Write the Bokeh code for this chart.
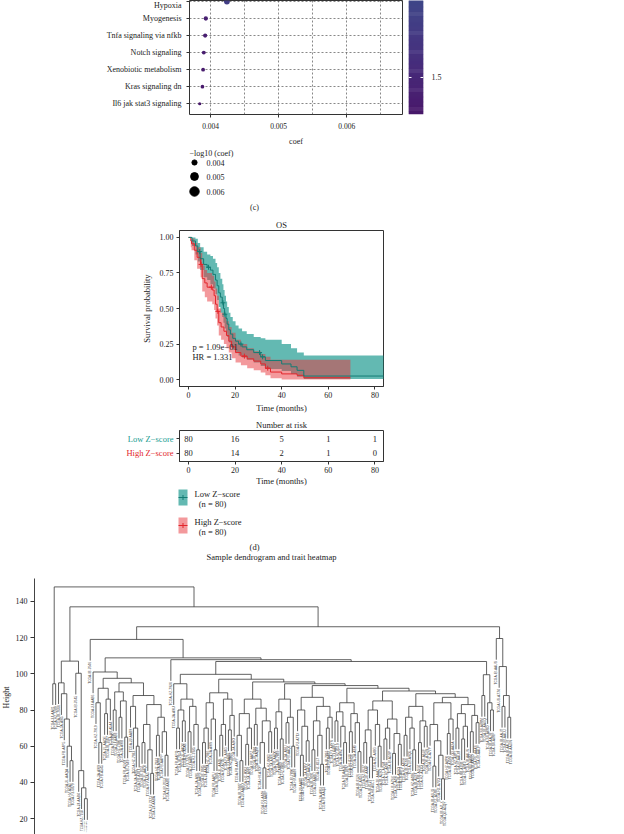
import numpy as np
from bokeh.plotting import figure
from bokeh.models import (Range1d, FixedTicker, Label, LinearColorMapper,
                          ColumnDataSource, NumeralTickFormatter)
from bokeh.layouts import column, row
from bokeh.embed import file_html
from bokeh.resources import INLINE
from bokeh.core.properties import value
from bokeh.palettes import Viridis256

SERIF = "Liberation Serif"
INK = "#222222"

# ---------------- (c) pathway dot plot data ----------------
pathways = ["Hypoxia", "Myogenesis", "Tnfa signaling via nfkb", "Notch signaling",
            "Xenobiotic metabolism", "Kras signaling dn", "Il6 jak stat3 signaling"]
coef = [0.00424, 0.00393, 0.00392, 0.00390, 0.00389, 0.00388, 0.00384]
neg_log_p = [1.78, 1.40, 1.39, 1.37, 1.36, 1.35, 1.31]
coef_ticks = [0.004, 0.005, 0.006]
coef_minor = [0.0045, 0.0055, 0.0065]
size_breaks = [0.004, 0.005, 0.006]
colorbar_ticks = [1.5]
colorbar_low = 1.30

# ---------------- (d) Kaplan-Meier data ----------------
low_t = [0, 1.5, 3, 4, 5, 6.5, 8, 9.4, 10.5, 11.6, 12.3, 13, 13.7, 14.5, 15, 15.5, 16.1,
         16.6, 17.3, 18, 19, 20.2, 21.5, 23, 25, 28, 31, 33, 40, 44, 46.6, 49.5, 84]
low_s = [1.00, 0.975, 0.94, 0.90, 0.85, 0.81, 0.79, 0.77, 0.74, 0.70, 0.66, 0.61, 0.58,
         0.54, 0.50, 0.46, 0.43, 0.39, 0.35, 0.32, 0.29, 0.27, 0.25, 0.23, 0.21, 0.19,
         0.16, 0.134, 0.11, 0.09, 0.065, 0.025, 0.025]
low_up = [1.00, 1.00, 0.99, 0.96, 0.93, 0.90, 0.88, 0.87, 0.85, 0.82, 0.79, 0.75, 0.71,
          0.67, 0.63, 0.59, 0.55, 0.51, 0.47, 0.44, 0.41, 0.38, 0.36, 0.34, 0.32, 0.30,
          0.29, 0.28, 0.25, 0.22, 0.19, 0.17, 0.17]
low_lo = [1.00, 0.94, 0.88, 0.83, 0.77, 0.72, 0.70, 0.67, 0.64, 0.60, 0.56, 0.51, 0.47,
          0.44, 0.40, 0.36, 0.33, 0.30, 0.26, 0.23, 0.21, 0.19, 0.17, 0.155, 0.14, 0.12,
          0.095, 0.075, 0.06, 0.04, 0.02, 0.004, 0.004]
low_censor_t = [4.8, 8.6, 14.8, 15.6, 22.5, 30.5, 31.8]

high_t = [0, 1, 1.3, 2.5, 3.7, 5.2, 5.9, 7, 8, 10.2, 11, 11.6, 12.3, 13, 14, 15.2, 16.3,
          17.3, 18.5, 20.2, 22.5, 25.2, 28, 31, 33, 35.2, 40, 46.6, 49.5, 69.5]
high_s = [1.0, 0.975, 0.955, 0.91, 0.86, 0.81, 0.71, 0.68, 0.65, 0.63, 0.59, 0.53, 0.48,
          0.40, 0.37, 0.34, 0.31, 0.27, 0.23, 0.19, 0.165, 0.146, 0.13, 0.11, 0.08, 0.053,
          0.04, 0.03, 0.013, 0.013]
high_up = [1.0, 1.0, 0.99, 0.96, 0.93, 0.89, 0.80, 0.77, 0.75, 0.73, 0.69, 0.64, 0.59,
           0.50, 0.47, 0.44, 0.41, 0.37, 0.33, 0.28, 0.25, 0.22, 0.20, 0.18, 0.16, 0.14,
           0.14, 0.14, 0.14, 0.14]
high_lo = [1.0, 0.93, 0.91, 0.84, 0.78, 0.72, 0.62, 0.58, 0.55, 0.53, 0.49, 0.43, 0.38,
           0.31, 0.28, 0.25, 0.22, 0.19, 0.15, 0.12, 0.10, 0.08, 0.065, 0.05, 0.03, 0.01,
           0.0, 0.0, 0.0, 0.0]
high_censor_t = [5.4, 9.8, 12.6, 24, 34]

km_x_ticks = [0, 20, 40, 60, 80]
km_y_ticks = [0, 0.25, 0.5, 0.75, 1.0]
p_text = "p = 1.09e\u221201"
hr_text = "HR = 1.331"

risk_times = [0, 20, 40, 60, 80]
risk_low = [80, 16, 5, 1, 1]
risk_high = [80, 14, 2, 1, 0]
group_names = ["Low Z\u2212score", "High Z\u2212score"]
group_n = [80, 80]

# ---------------- sample dendrogram data (Newick-like: "*" leaf, number = merge height) ----
A = "(*,*)94.5"
C1 = "(*,(*,(*,(*,(*,*)52)60)75)89)95"
C2 = "(*,(*,(*,(*,*)31)37)46.5)100.3"
P2a = "((*,(*,*)62)84,((*,*)78,*)86)92"
P2b1 = "((*,*)80,((*,*)76,(*,*)65)85)90"
P2b2 = "((*,(*,(*,*)60)70)82,(((*,*)62,(*,(*,*)45)58)72,((*,*)66,(*,(*,*)55)68)76)83)88"
T1b = "(((*,*)70,(*,*)74)80,((*,*)68,(*,(*,*)58)72)82)86"
T2a = "((((*,*)62,*)70,(*,(*,*)58)75)84,(((*,*)66,*)72,((*,*)69,*)77)86)89.5"
T2b1 = "(((*,(*,*)52)66,((*,*)61,*)70)78,((*,*)72,((*,(*,*)48)62,(*,*)68)74)81)86"
T2c = "(((*,*)70,(*,*)64)79,((*,*)73,(*,*)60)76)86"
T2e = "((*,((*,*)55,(*,*)63)71)80,(((*,*)58,(*,(*,*)50)66)74,((*,*)70,*)76)82)87"
T2g = "(((*,*)74,(*,(*,*)62)71)79,((*,*)68,(*,(*,*)57)73)78)84"
T2i = "((((*,*)62,(*,*)54)69,(*,(*,*)60)72)80,(((*,*)64,*)70,((*,*)56,(*,*)61)67)75)85"
J1 = "(((*,*)66,(*,(*,*)58)70)76,((*,*)62,(*,*)71)74)82"
J2 = "((*,((*,*)49,(*,(*,*)42)55)63)72,((*,*)67,*)75)84"
J3 = "(((*,*)70,((*,*)64,*)71)78,((*,*)68,(*,*)73)77)83"
U = "((*,*)88,(*,(*,*)80)84)99.5"
F = "(*,(*,((*,*)82,(*,*)76)88)104)119.5"

C = f"({C1},{C2})107"
P = f"(*,({P2a},({P2b1},{P2b2})95)97.5)101"
T1 = f"(*,{T1b})94.5"
T2j = f"({J1},({J2},{J3})87)89"
T2h = f"({T2i},{T2j})90.5"
T2f = f"({T2g},{T2h})92"
T2d = f"({T2e},{T2f})93.5"
T2b2 = f"({T2c},{T2d})94.5"
T2b = f"({T2b1},{T2b2})95.5"
T2 = f"({T2a},{T2b})97"
T = f"({T1},{T2})99.7"
S = f"({T},{U})106.8"
Q = f"(*,{S})107.8"
H = f"({P},{Q})108.8"
E = f"(*,{H})119"
D = f"({E},{F})126"
B = f"({C},{D})137"
TREE = f"({A},{B})148"

sample_ids = ("TCGA-2J-AAB1 TCGA-HZ-7289 TCGA-IB-7644 TCGA-3A-A9I5 TCGA-FB-A4P5 TCGA-2L-AAQA "
              "TCGA-HV-A5A3 TCGA-F2-6879 TCGA-IB-7645 TCGA-2J-AAB4 TCGA-HZ-7918 TCGA-3A-A9I7 "
              "TCGA-FB-A4P6 TCGA-IB-7646 TCGA-2J-AAB6 TCGA-HZ-7919 TCGA-3A-A9I9 TCGA-FB-A545 "
              "TCGA-2L-AAQE TCGA-IB-7647 TCGA-HV-A5A4 TCGA-F2-6880 TCGA-2J-AAB8 TCGA-HZ-7920 "
              "TCGA-3A-A9IB TCGA-FB-A5VM TCGA-IB-7649 TCGA-2J-AAB9 TCGA-HZ-7922 TCGA-3A-A9IC "
              "TCGA-FB-A78T TCGA-IB-7651 TCGA-2L-AAQI TCGA-HV-A5A5 TCGA-F2-7273 TCGA-2J-AABA "
              "TCGA-HZ-7923 TCGA-3A-A9IH TCGA-FB-AAPP TCGA-IB-7652 TCGA-2J-AABE TCGA-HZ-7924 "
              "TCGA-3A-A9IJ TCGA-FB-AAPQ TCGA-IB-7654 TCGA-2L-AAQJ TCGA-HV-A5A6 TCGA-F2-7276 "
              "TCGA-2J-AABH TCGA-HZ-7925 TCGA-3A-A9IL TCGA-FB-AAPS TCGA-IB-7885 TCGA-2J-AABI "
              "TCGA-HZ-7926 TCGA-3A-A9IN TCGA-FB-AAPU TCGA-IB-7886 TCGA-2L-AAQL TCGA-HV-A7OL "
              "TCGA-F2-A44G TCGA-2J-AABK TCGA-HZ-8001 TCGA-3A-A9IO TCGA-FB-AAPY TCGA-IB-7887 "
              "TCGA-2J-AABO TCGA-HZ-8002 TCGA-3A-A9IR TCGA-FB-AAPZ TCGA-IB-7888 TCGA-2L-AAQM "
              "TCGA-HV-A7OP TCGA-F2-A44H TCGA-2J-AABP TCGA-HZ-8003 TCGA-3A-A9IS TCGA-FB-AAQ0 "
              "TCGA-IB-7889 TCGA-2J-AABR TCGA-HZ-8005 TCGA-3A-A9IU TCGA-FB-AAQ1 TCGA-IB-7890 "
              "TCGA-HV-AA8V TCGA-F2-A7TX TCGA-2J-AABT TCGA-HZ-8315 TCGA-3A-A9IV TCGA-FB-AAQ2 "
              "TCGA-IB-7891 TCGA-2J-AABU TCGA-HZ-8317 TCGA-3A-A9IX TCGA-FB-AAQ3 TCGA-IB-7893 "
              "TCGA-HV-AA8X TCGA-F2-A8YN TCGA-2J-AABV TCGA-HZ-8519 TCGA-3A-A9IZ TCGA-FB-AAQ6 "
              "TCGA-IB-7897 TCGA-H6-8124 TCGA-HZ-8636 TCGA-3A-A9J0 TCGA-IB-8126 TCGA-H6-A45N "
              "TCGA-HZ-8637 TCGA-3E-AAAY TCGA-IB-8127 TCGA-H8-A6C1 TCGA-HZ-A49G TCGA-3E-AAAZ "
              "TCGA-IB-A5SO TCGA-L1-A7W4 TCGA-HZ-A49H TCGA-IB-A5SP TCGA-LB-A7SX TCGA-HZ-A49I "
              "TCGA-IB-A5SQ TCGA-LB-A8F3 TCGA-HZ-A4BH TCGA-IB-A5SS TCGA-LB-A9Q5 TCGA-HZ-A4BK "
              "TCGA-IB-A5ST TCGA-M8-A5N4 TCGA-HZ-A77O TCGA-IB-A6UF TCGA-OE-A75W TCGA-HZ-A77P "
              "TCGA-IB-A6UG TCGA-PZ-A5RE TCGA-HZ-A77Q TCGA-IB-A7LX TCGA-Q3-A5QY TCGA-HZ-A8P0 "
              "TCGA-IB-A7M4 TCGA-Q3-AA2A TCGA-HZ-A8P1 TCGA-IB-AAUM TCGA-RB-A7B8 TCGA-HZ-A9TJ "
              "TCGA-IB-AAUN TCGA-RB-AA9M TCGA-IB-AAUO TCGA-RL-AAAS TCGA-IB-AAUP TCGA-S4-A8RM "
              "TCGA-IB-AAUQ TCGA-S4-A8RO TCGA-IB-AAUR TCGA-S4-A8RP TCGA-IB-AAUS TCGA-US-A774 "
              "TCGA-IB-AAUT TCGA-IB-AAUU TCGA-IB-AAUV TCGA-IB-AAUW").split()
dendro_ticks = [20, 40, 60, 80, 100, 120, 140]

# ======================================================================
W = 624


def base_fig(**kw):
    p = figure(output_backend="svg", toolbar_location=None, **kw)
    p.background_fill_color = "white"
    p.border_fill_color = "white"
    return p


def canvas(w, h, x_range=None, y_range=None, top=0, bottom=0):
    p = base_fig(width=w, height=h,
                 x_range=x_range if x_range is not None else Range1d(0, w),
                 y_range=y_range if y_range is not None else Range1d(h, 0),
                 x_axis_location=None, y_axis_location=None,
                 min_border_left=0, min_border_right=0, min_border_top=top, min_border_bottom=bottom)
    p.outline_line_color = None
    p.grid.visible = False
    return p


def style_axis(ax, size="8px"):
    ax.major_label_text_font = SERIF
    ax.major_label_text_font_size = size
    ax.major_label_text_color = INK
    ax.axis_label_text_font = SERIF
    ax.axis_label_text_font_style = "normal"
    ax.axis_label_text_color = INK
    ax.major_tick_line_color = "#333333"
    ax.major_tick_in = 0
    ax.major_tick_out = 3
    ax.minor_tick_line_color = None
    ax.axis_line_color = "#333333"


def txt(p, x, y, t, size="8px", align="left", color=INK, font=SERIF, angle=0.0):
    return p.text(x=x, y=y, text=t, text_font=value(font), text_font_size=size, angle=angle,
                  text_align=align, text_baseline="middle", text_color=color)


# ---------------- (c) dot plot ----------------
n_pw = len(pathways)
rowpos = [n_pw - 1 - k for k in range(n_pw)]
size_knots_x = [0.00384, 0.004, 0.005, 0.006]
size_knots_d = [3.2, 5.2, 7.8, 9.4]
dot_diam = np.interp(coef, size_knots_x, size_knots_d)
mapper = LinearColorMapper(palette=Viridis256, low=1.05, high=5.1)
src = ColumnDataSource(dict(coef=coef, row=rowpos, d=dot_diam, nlp=neg_log_p))

f1 = base_fig(width=408, height=148, x_range=Range1d(0.00369, 0.00682),
              y_range=Range1d(-0.63, 6.057),
              min_border_left=189, min_border_right=6, min_border_top=0, min_border_bottom=31)
f1.xgrid.ticker = FixedTicker(ticks=coef_ticks + coef_minor)
f1.ygrid.ticker = FixedTicker(ticks=rowpos)
for g in (f1.xgrid, f1.ygrid):
    g.grid_line_color = "#555555"
    g.grid_line_dash = "2 2"
    g.grid_line_width = 0.7
f1.scatter("coef", "row", size="d", source=src,
           fill_color={"field": "nlp", "transform": mapper}, line_color=None)
f1.xaxis.ticker = FixedTicker(ticks=coef_ticks)
f1.xaxis.formatter = NumeralTickFormatter(format="0.000")
f1.yaxis.ticker = FixedTicker(ticks=rowpos)
f1.yaxis.major_label_overrides = {r: nm for r, nm in zip(rowpos, pathways)}
style_axis(f1.xaxis, "7.5px")
style_axis(f1.yaxis, "8px")
f1.xaxis.axis_line_color = None
f1.yaxis.axis_line_color = None
f1.xaxis.axis_label = "coef"
f1.xaxis.axis_label_text_font_size = "8px"
f1.xaxis.axis_label_standoff = 5
f1.outline_line_color = "#333333"
f1.outline_line_width = 1

cb_top = 1.5 + 79 / 190.0
f1c = base_fig(width=216, height=148, x_range=Range1d(0, 1), y_range=Range1d(colorbar_low, cb_top),
               x_axis_location=None, y_axis_location="right",
               min_border_left=0, min_border_right=201, min_border_top=0, min_border_bottom=31)
nbins = 120
edges = np.linspace(colorbar_low, cb_top, nbins + 1)
overlap = (edges[1] - edges[0]) * 0.6
cb_src = ColumnDataSource(dict(b=edges[:-1], t=edges[1:] + overlap,
                               mid=(edges[:-1] + edges[1:]) / 2))
f1c.quad(left=0, right=1, bottom="b", top="t", source=cb_src,
         fill_color={"field": "mid", "transform": mapper}, line_color=None)
nt = len(colorbar_ticks)
f1c.segment(x0=[0] * nt + [0.8] * nt, x1=[0.2] * nt + [1.0] * nt,
            y0=colorbar_ticks * 2, y1=colorbar_ticks * 2, line_color="white", line_width=1)
f1c.yaxis.ticker = FixedTicker(ticks=colorbar_ticks)
style_axis(f1c.yaxis, "8px")
f1c.yaxis.axis_line_color = None
f1c.yaxis.major_tick_line_color = None
f1c.yaxis.major_label_standoff = 5
f1c.outline_line_color = None
f1c.grid.visible = False

# legend for (c)
f2 = canvas(W, 67)
txt(f2, [189], [5], ["\u2212log10 (coef)"])
leg_y = [14, 28, 43]
f2.scatter(x=[194] * len(size_breaks), y=leg_y,
           size=np.interp(size_breaks, size_knots_x, size_knots_d), color="black")
txt(f2, [206] * len(size_breaks), leg_y, [f"{b:.3f}" for b in size_breaks])
txt(f2, [254], [59], ["(c)"], align="center")

# ---------------- (d) KM plot ----------------
TEAL_LINE = "#147d74"
TEAL_FILL = "#0f9488"
RED_LINE = "#e3262c"
RED_FILL = "#e8343a"
TEAL_TXT = "#1a9d92"

f3 = base_fig(width=W, height=200, x_range=Range1d(-3.86, 83.7), y_range=Range1d(-0.0486, 1.0486),
              min_border_left=179, min_border_right=241, min_border_top=15, min_border_bottom=27,
              title="OS")
f3.title.align = "center"
f3.title.text_font = SERIF
f3.title.text_font_size = "8.5px"
f3.title.text_font_style = "normal"
f3.title.text_color = INK
f3.title.standoff = 2
f3.grid.visible = False
f3.varea_step(x=low_t, y1=low_lo, y2=low_up, step_mode="after", fill_color=TEAL_FILL, fill_alpha=0.65)
f3.varea_step(x=high_t, y1=high_lo, y2=high_up, step_mode="after", fill_color=RED_FILL, fill_alpha=0.5)
f3.step(x=high_t, y=high_s, mode="after", line_color=RED_LINE, line_width=1)
f3.step(x=low_t, y=low_s, mode="after", line_color=TEAL_LINE, line_width=1)


def step_lookup(ts, ss, q):
    idx = np.searchsorted(ts, q, side="right") - 1
    return [ss[i] for i in idx]


f3.scatter(x=high_censor_t, y=step_lookup(high_t, high_s, high_censor_t), marker="cross",
           size=5, line_color=RED_LINE, line_width=1)
f3.scatter(x=low_censor_t, y=step_lookup(low_t, low_s, low_censor_t), marker="cross",
           size=5, line_color=TEAL_LINE, line_width=1)
f3.xaxis.ticker = FixedTicker(ticks=km_x_ticks)
f3.yaxis.ticker = FixedTicker(ticks=km_y_ticks)
f3.yaxis.formatter = NumeralTickFormatter(format="0.00")
style_axis(f3.xaxis)
style_axis(f3.yaxis)
f3.xaxis.major_label_standoff = 2
f3.yaxis.major_label_standoff = 3
f3.xaxis.axis_label = "Time (months)"
f3.yaxis.axis_label = "Survival probability"
f3.xaxis.axis_label_text_font_size = "8.5px"
f3.yaxis.axis_label_text_font_size = "8.5px"
f3.xaxis.axis_label_standoff = 2
f3.yaxis.axis_label_standoff = 5
f3.outline_line_color = "#333333"
f3.outline_line_width = 1
f3.add_layout(Label(x=1.7, y=0.231, text=p_text, text_font=SERIF, text_font_size="8.5px",
                    text_baseline="middle", text_color=INK))
f3.add_layout(Label(x=1.7, y=0.162, text=hr_text, text_font=SERIF, text_font_size="8.5px",
                    text_baseline="middle", text_color=INK))

# risk table: group names on a left strip (same vertical frame), table to the right
risk_y_range = (-0.5625, 1.5625)
f4lab = canvas(175, 73, x_range=Range1d(0, 175), y_range=Range1d(*risk_y_range), top=15, bottom=24)
lab_src = ColumnDataSource(dict(x=[173, 173], y=[1, 0], t=group_names, c=[TEAL_TXT, RED_LINE]))
f4lab.text(x="x", y="y", text="t", text_color="c", source=lab_src, text_font=value(SERIF),
           text_font_size="8.5px", text_align="right", text_baseline="middle")

f4 = base_fig(width=W - 175, height=73, x_range=Range1d(-3.86, 83.7),
              y_range=Range1d(*risk_y_range),
              min_border_left=4, min_border_right=241, min_border_top=15, min_border_bottom=24,
              title="Number at risk")
f4.title.align = "center"
f4.title.text_font = SERIF
f4.title.text_font_size = "8.5px"
f4.title.text_font_style = "normal"
f4.title.text_color = INK
f4.title.standoff = 2
f4.grid.visible = False
txt(f4, risk_times + risk_times, [1] * len(risk_times) + [0] * len(risk_times),
    [str(v) for v in risk_low + risk_high], size="8.5px", align="center")
f4.xaxis.ticker = FixedTicker(ticks=km_x_ticks)
f4.yaxis.ticker = FixedTicker(ticks=[0, 1])
f4.yaxis.major_label_overrides = {0: "", 1: ""}
style_axis(f4.xaxis)
style_axis(f4.yaxis)
f4.xaxis.major_label_standoff = 2
f4.xaxis.axis_label = "Time (months)"
f4.xaxis.axis_label_text_font_size = "8.5px"
f4.xaxis.axis_label_standoff = 0
f4.outline_line_color = "#333333"
f4.outline_line_width = 1

# legend for (d) + captions
f5 = canvas(W, 74)
for cy, fill, alpha, line, nm, nn in [(9, TEAL_FILL, 0.65, TEAL_LINE, group_names[0], group_n[0]),
                                      (37, RED_FILL, 0.5, RED_LINE, group_names[1], group_n[1])]:
    f5.rect(x=[182.5], y=[cy], width=9, height=16, fill_color=fill, fill_alpha=alpha, line_color=None)
    f5.segment(x0=[178], x1=[187], y0=[cy], y1=[cy], line_color=line, line_width=1)
    f5.scatter(x=[182.5], y=[cy], marker="cross", size=5, line_color=line, line_width=1)
    txt(f5, [194], [cy - 4], [nm], size="8.5px")
    txt(f5, [212], [cy + 6], [f"(n = {nn})"], size="8.5px", align="center")
txt(f5, [254], [58], ["(d)"], size="8.5px", align="center")
txt(f5, [271], [68], ["Sample dendrogram and trait heatmap"], size="8.5px", align="center")

# ---------------- dendrogram ----------------


def parse_tree(s):
    pos = [0]

    def node():
        if s[pos[0]] == "*":
            pos[0] += 1
            return None
        pos[0] += 1  # '('
        a = node()
        pos[0] += 1  # ','
        b = node()
        pos[0] += 1  # ')'
        j = pos[0]
        while pos[0] < len(s) and (s[pos[0]].isdigit() or s[pos[0]] == "."):
            pos[0] += 1
        return (float(s[j:pos[0]]), a, b)
    return node()


root = parse_tree(TREE)
heights = []


def collect(nd):
    if nd is not None:
        heights.append(nd[0])
        collect(nd[1])
        collect(nd[2])


collect(root)
hang = 0.1 * (max(heights) - min(heights))
sx0, sy0, sx1, sy1 = [], [], [], []
leaf_x, leaf_y = [], []
counter = [0]


def place(nd, parent_h):
    if nd is None:
        i = counter[0]
        counter[0] += 1
        sx0.append(i); sx1.append(i); sy0.append(parent_h); sy1.append(parent_h - hang)
        leaf_x.append(i); leaf_y.append(parent_h - hang)
        return i
    h, a, b = nd
    xa = place(a, h)
    xb = place(b, h)
    sx0.append(xa); sx1.append(xb); sy0.append(h); sy1.append(h)
    x = (xa + xb) / 2
    if parent_h is not None:
        sx0.append(x); sx1.append(x); sy0.append(h); sy1.append(parent_h)
    return x


place(root, None)
n_leaf = counter[0]
step = (510 - 51.3) / (n_leaf - 1)
PX_PER_H = 1.81
dendro_y_range = (100 - (834 - 673.3) / PX_PER_H, 100 + (673.3 - 570) / PX_PER_H)
LAB_W = 12
f6lab = canvas(LAB_W, 272, x_range=Range1d(0, LAB_W), y_range=Range1d(*dendro_y_range), top=8)
txt(f6lab, [5.5], [100 - (697 - 673.3) / PX_PER_H], ["Height"], size="8px", align="center",
    angle=np.pi / 2)

f6 = base_fig(width=W - LAB_W, height=272, x_range=Range1d((33 - 51.3) / step, (624 - 51.3) / step),
              y_range=Range1d(*dendro_y_range), x_axis_location=None,
              min_border_left=33 - LAB_W, min_border_right=0, min_border_top=8, min_border_bottom=0)
f6.grid.visible = False
f6.outline_line_color = None
f6.segment(x0=sx0, y0=sy0, x1=sx1, y1=sy1, line_color="#3a3a3a", line_width=0.8)
# leaf labels: shrink the few deepest ones so they stay inside the page
LABEL_PX = 3.3
label_top = [v - 0.8 for v in leaf_y]
room_px = [(v - dendro_y_range[0]) * PX_PER_H - 1 for v in label_top]
label_sizes = [f"{min(LABEL_PX, r / 7.8):.2f}px" for r in room_px]
leaf_src = ColumnDataSource(dict(x=leaf_x, y=label_top, t=sample_ids[:n_leaf], s=label_sizes))
f6.text(x="x", y="y", text="t", text_font_size="s", source=leaf_src, angle=np.pi / 2,
        text_font=value("Liberation Sans"), text_align="right",
        text_baseline="middle", text_color="#444444")
f6.yaxis.ticker = FixedTicker(ticks=dendro_ticks)
style_axis(f6.yaxis)
f6.yaxis.major_tick_out = 4
f6.yaxis.major_label_standoff = 3
f6.yaxis.axis_line_color = "#444444"
f6.yaxis.bounds = (0, 152.6)

layout = column(row(f1, f1c), row(f2), row(f3), row(f4lab, f4), row(f5), row(f6lab, f6))
open("out.html", "w").write(file_html(layout, INLINE))
